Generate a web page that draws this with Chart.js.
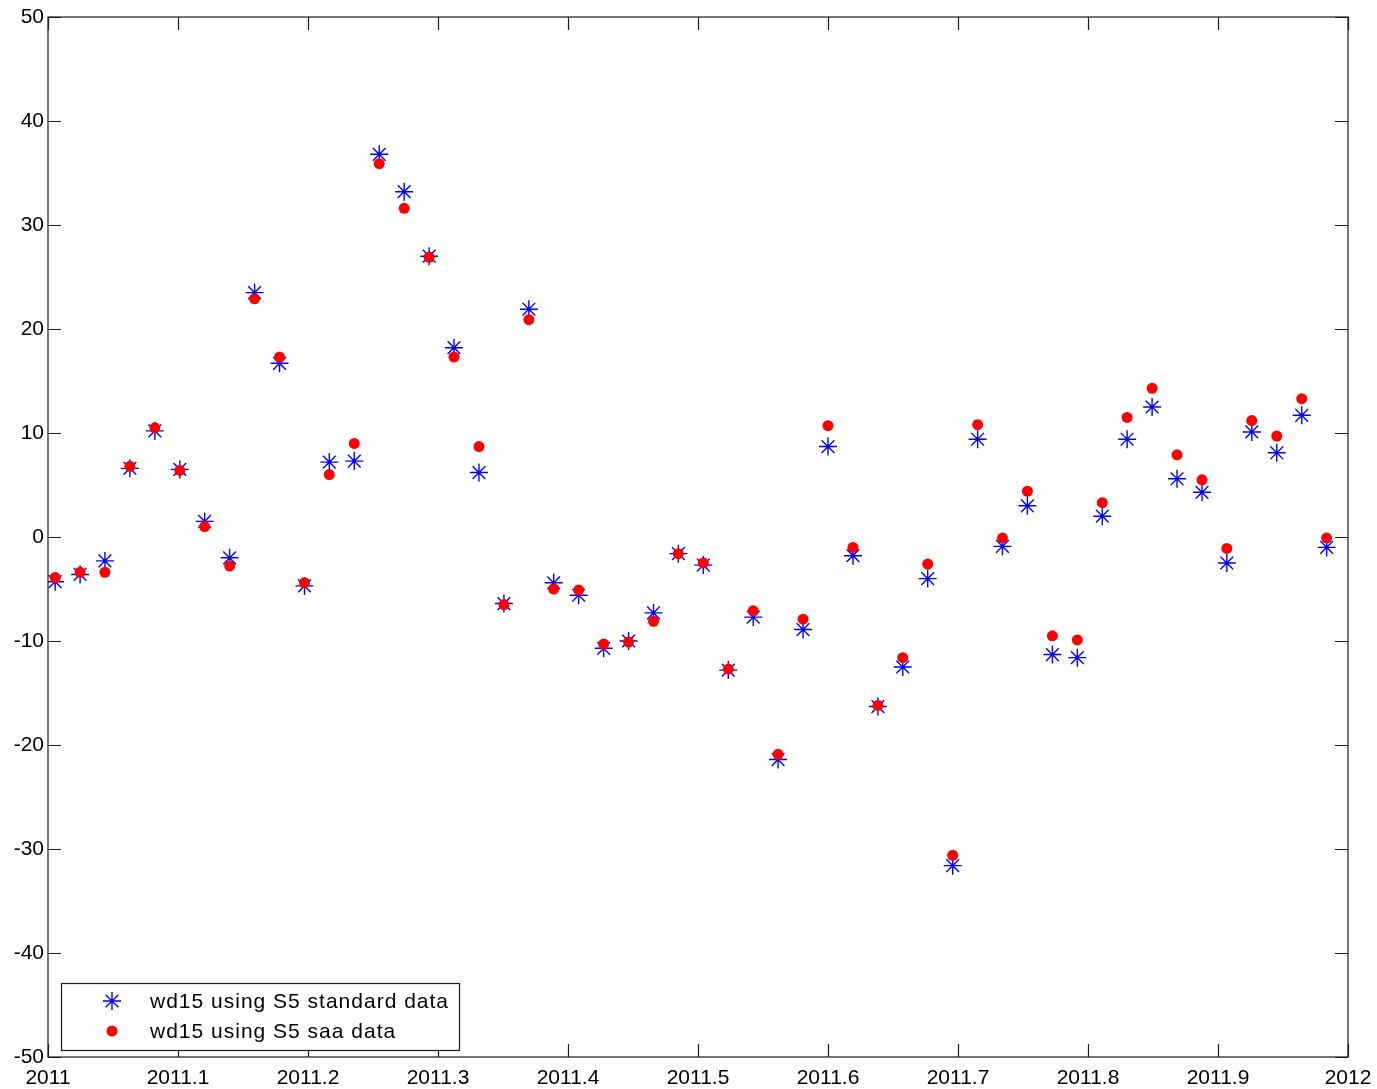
<!DOCTYPE html>
<html><head><meta charset="utf-8">
<script src="https://cdn.jsdelivr.net/npm/chart.js@4/dist/chart.umd.min.js"></script>
<style>html,body{margin:0;padding:0;background:#fff}#wrap{width:1377px;height:1089px}</style>
</head><body><div id="wrap"><canvas id="c" width="1377" height="1089"></canvas></div>
<script>
// ---- data ----
const xDates = [2011.0055, 2011.0247, 2011.0438, 2011.0630, 2011.0822, 2011.1014, 2011.1205, 2011.1397,
  2011.1589, 2011.1781, 2011.1973, 2011.2164, 2011.2356, 2011.2548, 2011.2740, 2011.2932, 2011.3123,
  2011.3315, 2011.3507, 2011.3699, 2011.3890, 2011.4082, 2011.4274, 2011.4466, 2011.4658, 2011.4849,
  2011.5041, 2011.5233, 2011.5425, 2011.5616, 2011.5808, 2011.6000, 2011.6192, 2011.6384, 2011.6575,
  2011.6767, 2011.6959, 2011.7151, 2011.7342, 2011.7534, 2011.7726, 2011.7918, 2011.8110, 2011.8301,
  2011.8493, 2011.8685, 2011.8877, 2011.9068, 2011.9260, 2011.9452, 2011.9644, 2011.9836];
const standardValues = [-4.3, -3.6, -2.3, 6.6, 10.2, 6.5, 1.5, -2.0, 23.5, 16.7, -4.7, 7.2, 7.3,
  36.8, 33.2, 27.0, 18.2, 6.2, -6.4, 21.9, -4.4, -5.6, -10.7, -10.0, -7.3, -1.6, -2.7, -12.8,
  -7.7, -21.4, -8.9, 8.7, -1.8, -16.3, -12.5, -4.0, -31.6, 9.4, -0.9, 3.0, -11.3, -11.6, 2.0,
  9.4, 12.5, 5.6, 4.3, -2.5, 10.1, 8.1, 11.7, -1.0];
const saaValues = [-3.9, -3.4, -3.4, 6.8, 10.5, 6.4, 1.0, -2.8, 22.9, 17.3, -4.4, 6.0, 9.0,
  35.9, 31.6, 26.9, 17.3, 8.7, -6.5, 20.9, -5.0, -5.1, -10.3, -10.1, -8.1, -1.6, -2.5, -12.7,
  -7.1, -20.9, -7.9, 10.7, -1.0, -16.2, -11.6, -2.6, -30.6, 10.8, -0.1, 4.4, -9.5, -9.9, 3.3,
  11.5, 14.3, 7.9, 5.5, -1.1, 11.2, 9.7, 13.3, -0.1];
const xTickValues = [2011, 2011.1, 2011.2, 2011.3, 2011.4, 2011.5, 2011.6, 2011.7, 2011.8, 2011.9, 2012];
const xTickLabels = ['2011', '2011.1', '2011.2', '2011.3', '2011.4', '2011.5', '2011.6', '2011.7', '2011.8', '2011.9', '2012'];
const yTickValues = [-50, -40, -30, -20, -10, 0, 10, 20, 30, 40, 50];
const seriesLabels = ['wd15 using S5 standard data', 'wd15 using S5 saa data'];

const FONT = '"Liberation Sans", Arial, Helvetica, sans-serif';
const AXIS_COLOR = '#1a1a1a';

function toPoints(xs, ys) { return xs.map((x, i) => ({x: x, y: ys[i]})); }

function drawMarker(ctx, style, r, x, y, color, bw) {
  ctx.save();
  ctx.strokeStyle = color; ctx.fillStyle = color; ctx.lineWidth = bw;
  if (style === 'star') {
    ctx.beginPath();
    for (let k = 0; k < 4; k++) {
      const a = k * Math.PI / 4;
      ctx.moveTo(x - Math.cos(a) * r, y - Math.sin(a) * r);
      ctx.lineTo(x + Math.cos(a) * r, y + Math.sin(a) * r);
    }
    ctx.stroke();
  } else {
    ctx.beginPath(); ctx.arc(x, y, r, 0, Math.PI * 2); ctx.fill();
  }
  ctx.restore();
}

const boxPlugin = {
  id: 'boxTicks',
  afterDraw(chart) {
    const {ctx, chartArea: a, scales} = chart;
    const L = 13;
    ctx.save();
    ctx.strokeStyle = AXIS_COLOR; ctx.lineWidth = 1.2;
    ctx.strokeRect(a.left, a.top, a.right - a.left, a.bottom - a.top);
    ctx.beginPath();
    xTickValues.forEach(v => {
      const px = Math.round(scales.x.getPixelForValue(v)) + 0.5;
      ctx.moveTo(px, a.bottom); ctx.lineTo(px, a.bottom - L);
      ctx.moveTo(px, a.top); ctx.lineTo(px, a.top + L);
    });
    yTickValues.forEach(v => {
      const py = Math.round(scales.y.getPixelForValue(v)) + 0.5;
      ctx.moveTo(a.left, py); ctx.lineTo(a.left + L, py);
      ctx.moveTo(a.right, py); ctx.lineTo(a.right - L, py);
    });
    ctx.stroke();

    // legend box inside the axes, bottom-left
    const bx = a.left + 13, by = a.bottom - 74, bw = 398, bh = 67;
    ctx.fillStyle = '#fff';
    ctx.fillRect(bx, by, bw, bh);
    ctx.lineWidth = 1.2; ctx.strokeStyle = AXIS_COLOR;
    ctx.strokeRect(bx + 0.5, by + 0.5, bw, bh);
    const ds = chart.data.datasets;
    const rows = [by + 18, by + 48];
    [0, 1].forEach(i => {
      const d = ds[i];
      drawMarker(ctx, d.pointStyle, d.pointStyle === 'star' ? 9 : 5.5, bx + 51, rows[i], d.borderColor, 1.4);
      ctx.fillStyle = '#000';
      ctx.font = '21px ' + FONT;
      if ('letterSpacing' in ctx) ctx.letterSpacing = '1px';
      ctx.textBaseline = 'middle';
      ctx.textAlign = 'left';
      ctx.fillText(d.label, bx + 89, rows[i] + 1);
    });
    ctx.restore();
  }
};

new Chart(document.getElementById('c'), {
  type: 'scatter',
  data: {
    datasets: [
      { label: seriesLabels[0], data: toPoints(xDates, standardValues), pointStyle: 'star',
        pointRadius: 9, pointHoverRadius: 9, borderColor: '#0000ff', backgroundColor: '#0000ff',
        pointBorderWidth: 1.4, order: 1, showLine: false },
      { label: seriesLabels[1], data: toPoints(xDates, saaValues), pointStyle: 'circle',
        pointRadius: 5.5, pointHoverRadius: 5.5, borderColor: '#ff0000', backgroundColor: '#ff0000',
        pointBorderWidth: 0, order: 0, showLine: false }
    ]
  },
  options: {
    responsive: false, animation: false, devicePixelRatio: 1,
    layout: { padding: { top: 17, right: 29, left: 0, bottom: 0 } },
    plugins: { legend: { display: false }, tooltip: { enabled: false }, title: { display: false } },
    scales: {
      x: {
        type: 'linear', min: 2011, max: 2012,
        afterBuildTicks: s => { s.ticks = xTickValues.map(v => ({value: v})); },
        afterFit: s => { s.height = 32; s.paddingLeft = 0; s.paddingRight = 0; },
        ticks: { autoSkip: false, maxRotation: 0, padding: 9, color: '#000',
          font: { family: FONT, size: 21 },
          callback: (v) => { const i = xTickValues.findIndex(t => Math.abs(t - v) < 1e-6); return i >= 0 ? xTickLabels[i] : ''; } },
        grid: { display: false, drawTicks: false },
        border: { display: false }
      },
      y: {
        type: 'linear', min: -50, max: 50,
        afterBuildTicks: s => { s.ticks = yTickValues.map(v => ({value: v})); },
        afterFit: s => { s.width = 48; s.paddingTop = 0; s.paddingBottom = 0; },
        ticks: { padding: 4, color: '#000', font: { family: FONT, size: 21 },
          callback: v => String(v) },
        grid: { display: false, drawTicks: false },
        border: { display: false }
      }
    }
  },
  plugins: [boxPlugin]
});
</script>
</body></html>
